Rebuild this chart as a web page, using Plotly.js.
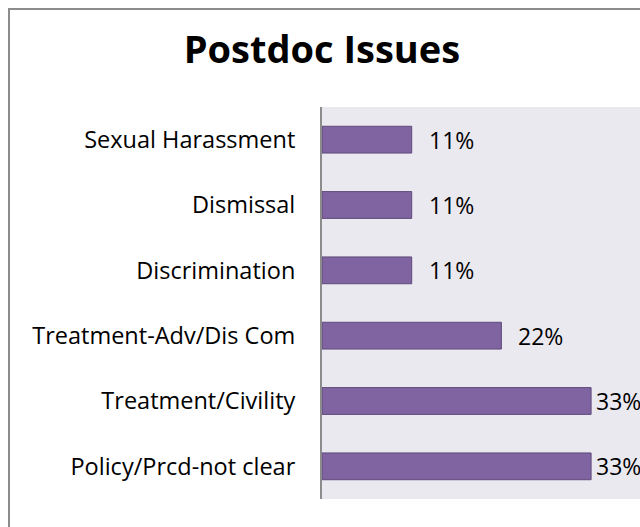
<!DOCTYPE html>
<html>
<head>
<meta charset="utf-8">
<script src="https://cdn.plot.ly/plotly-3.0.1.min.js"></script>
<style>
  html, body { margin: 0; padding: 0; overflow: hidden; background: #ffffff; }
  #frame { position: absolute; left: 8px; top: 8px; width: 800px; height: 700px; border: 2px solid #8c8c8c; box-sizing: border-box; }
  #chart { position: absolute; left: 0; top: 0; width: 640px; height: 527px; }
</style>
</head>
<body>
<div id="frame"></div>
<div id="chart"></div>
<script>
const categories = ["Sexual Harassment", "Dismissal", "Discrimination", "Treatment-Adv/Dis Com", "Treatment/Civility", "Policy/Prcd-not clear"];
const values = [11, 11, 11, 22, 33, 33];
const labels = ["11%", "11%", "11%", "22%", "33%", "33%"];

const W = 640, H = 527;
const ml = 322, mr = 0, mt = 107, mb = 28;
const xMax = 39;
const pxPerUnit = (W - ml - mr) / xMax;
const labelW = 46;

const annotations = values.map((v, i) => {
  const room = (xMax - v) * pxPerUnit - labelW;
  return {
    x: v, y: categories[i], xref: 'x', yref: 'y',
    text: labels[i], showarrow: false, xanchor: 'left', yanchor: 'middle',
    xshift: Math.max(1, Math.min(15, room)),
    font: { family: 'Open Sans, sans-serif', size: 23, color: '#000000' }
  };
});

const trace = {
  type: 'bar', orientation: 'h',
  x: values, y: categories,
  marker: { color: '#8064a2', line: { color: '#5e4a7a', width: 1 } },
  hoverinfo: 'none'
};

const layout = {
  width: W, height: H,
  margin: { l: ml, r: mr, t: mt, b: mb, pad: 0 },
  paper_bgcolor: 'rgba(0,0,0,0)',
  plot_bgcolor: '#ebe9f0',
  showlegend: false,
  bargap: 0.59,
  title: {
    text: '<b>Postdoc Issues</b>',
    font: { family: 'Open Sans, sans-serif', size: 38, color: '#000000' },
    x: 0.503, xref: 'container', xanchor: 'center',
    y: 0.905, yref: 'container', yanchor: 'middle'
  },
  xaxis: { range: [0, xMax], showticklabels: false, showgrid: false, zeroline: false, showline: false, ticks: '' },
  yaxis: {
    type: 'category', autorange: 'reversed',
    showline: true, linecolor: '#8c8c8c', linewidth: 2,
    showgrid: false, zeroline: false, ticks: '',
    ticklabelstandoff: 20,
    tickfont: { family: 'Open Sans, sans-serif', size: 23.5, color: '#000000' }
  },
  annotations: annotations
};

Plotly.newPlot('chart', [trace], layout, { displayModeBar: false, staticPlot: true });
</script>
</body>
</html>
